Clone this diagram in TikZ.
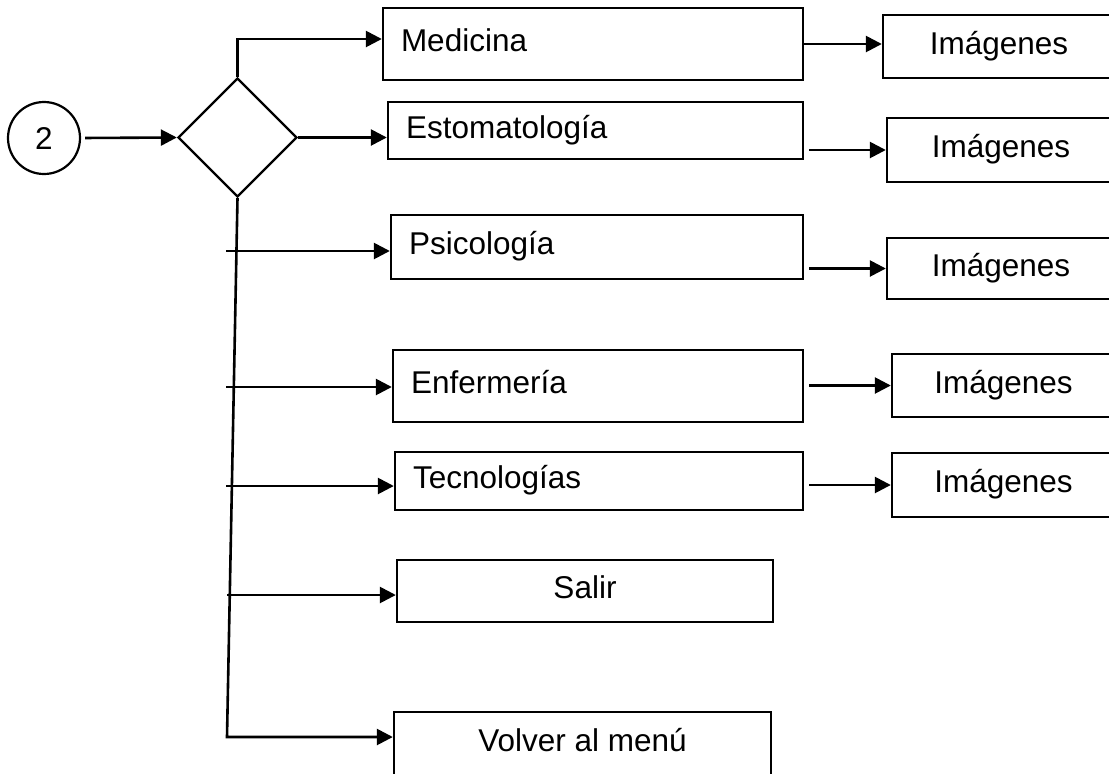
\documentclass[tikz,border=0pt]{standalone}
\usepackage{fontspec}
\setmainfont{Liberation Sans}
\usepackage{tikz}
\usetikzlibrary{arrows.meta, shapes.geometric, positioning}
\tikzset{
  flow/.style={-{Triangle[length=16pt, width=16pt]}, line width=2.6pt, color=black},
  menubox/.style={draw=black, line width=2.4pt, rectangle, inner xsep=18pt, inner ysep=0pt,
    align=left, text height=23.6pt, text depth=7.9pt},
  centerbox/.style={draw=black, line width=2.4pt, rectangle, inner sep=0pt,
    align=center, text height=23.6pt, text depth=7.9pt},
  connector/.style={draw=black, line width=2.2pt, circle, inner sep=0pt, minimum size=72pt},
  choice/.style={draw=black, line width=2.4pt, diamond, aspect=1, inner sep=0pt, minimum size=119pt},
}

\begin{document}
\begin{tikzpicture}[x=1pt, y=-1pt, font=\fontsize{31.5}{38}\selectfont]
  \useasboundingbox (0,0) rectangle (1109,774);
  \clip (0,0) rectangle (1109,774);
  \fill[white] (0,0) rectangle (1109,774);

  % Start and decision
  \node[connector] (start) at (44,138) {2};
  \node[choice] (dec) at (237.5,137.5) {};
  \draw[flow, shorten <=4pt] (start.east) -- (dec.west);

  % Careers
  \node[menubox, text width=384pt, minimum height=72pt] (med) at (593,44) {Medicina};
  \node[menubox, text width=379pt, minimum height=57pt] (est) at (595.5,130.5) {Estomatología};
  \node[menubox, text width=376pt, minimum height=64pt] (psi) at (597,247) {Psicología};
  \node[menubox, text width=374pt, minimum height=72pt] (enf) at (598,386) {Enfermería};
  \node[menubox, text width=372pt, minimum height=58pt] (tec) at (599,481) {Tecnologías};
  \node[centerbox, minimum width=376pt, minimum height=62pt] (sal) at (585,591) {Salir};
  \node[centerbox, minimum width=377pt, minimum height=64pt] (vol) at (582.5,744) {Volver al menú};

  % Images
  \node[centerbox, minimum width=232pt, minimum height=63pt] (img1) at (999,46.5) {Imágenes};
  \node[centerbox, minimum width=228pt, minimum height=64pt] (img2) at (1001,150) {Imágenes};
  \node[centerbox, minimum width=228pt, minimum height=61pt] (img3) at (1001,268.5) {Imágenes};
  \node[centerbox, minimum width=223pt, minimum height=63pt] (img4) at (1003.5,385.5) {Imágenes};
  \node[centerbox, minimum width=223pt, minimum height=64pt] (img5) at (1003.5,485) {Imágenes};

  % Branches from the decision
  \draw[flow] (dec.north) |- ([yshift=5pt]med.west);
  \draw[flow] (dec.east) -- (dec.east -| est.west);
  \coordinate (tbot) at (227,737);
  \draw[flow] (dec.south) -- (tbot) -- (tbot -| vol.west);

  \coordinate (tpsi) at (226,251);
  \coordinate (tenf) at (226,387);
  \coordinate (ttec) at (226,486);
  \coordinate (tsal) at (227,595);
  \draw[flow] (tpsi) -- (tpsi -| psi.west);
  \draw[flow] (tenf) -- (tenf -| enf.west);
  \draw[flow] (ttec) -- (ttec -| tec.west);
  \draw[flow] (tsal) -- (tsal -| sal.west);

  % To the images
  \draw[flow] (med.east) -- (med.east -| img1.west);
  \draw[flow] ([xshift=5pt]est.east |- img2.west) -- (img2.west);
  \draw[flow] ([xshift=5pt]psi.east |- img3.west) -- (img3.west);
  \draw[flow] ([xshift=5pt]enf.east |- img4.west) -- (img4.west);
  \draw[flow] ([xshift=5pt]tec.east |- img5.west) -- (img5.west);
\end{tikzpicture}
\end{document}
